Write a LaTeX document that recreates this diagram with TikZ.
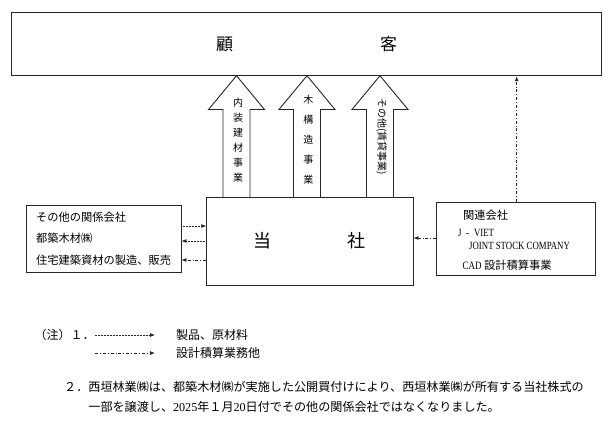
\documentclass[tikz,border=0pt]{standalone}
\usepackage{fontspec}
\setmainfont{Noto Sans CJK JP}
\newfontfamily\lat[FakeStretch=0.8]{Liberation Serif}
\newfontfamily\latn{Liberation Serif}
\usetikzlibrary{arrows.meta}
\tikzset{
  box/.style={draw=black!85, line width=0.9pt, rectangle, inner sep=0pt},
  bigarrow/.style={draw=black!85, line width=0.9pt, line join=miter},
  dotarr/.style={draw=black!85, line width=0.7pt, dash pattern=on 0.6pt off 0.9pt,
    -{Latex[length=5pt,width=4pt]}},
  dasharr/.style={draw=black!85, line width=0.8pt, dash pattern=on 3pt off 2pt on 0.8pt off 2pt,
    -{Latex[length=5pt,width=4pt]}},
  txt/.style={anchor=west, inner sep=0pt},
}
\begin{document}
\begin{tikzpicture}[x=1pt,y=-1pt]
\useasboundingbox (0,0) rectangle (612,429);
\fill[white] (0,0) rectangle (612,429);

% boxes
\node[box, minimum width=590pt, minimum height=63.7pt, font=\fontsize{17}{17}\selectfont]
  (cust) at (306.7,43.85) {顧\hspace{147pt}客};
\node[box, minimum width=206.3pt, minimum height=87.7pt, font=\fontsize{18}{18}\selectfont]
  (tosha) at (309.85,241.15) {当\hspace{76pt}社};
\node[box, minimum width=155pt, minimum height=67pt, text width=135pt, align=left,
  inner xsep=10pt, font=\fontsize{11.25}{21.5}\selectfont]
  (rel) at (103.5,238.5) {その他の関係会社\\都築木材㈱\\住宅建築資材の製造、販売};
\node[box, minimum width=158.3pt, minimum height=73pt] (jv) at (515.85,238.5) {};
\node[txt, font=\fontsize{11.25}{11.25}\selectfont] (jv1) at (463,215) {関連会社};
\node[txt, font=\lat\fontsize{11}{11}\selectfont] (jv2) at (458,233) {J\hspace{4.5pt}-\hspace{5pt}VIET};
\node[txt, font=\lat\fontsize{11}{11}\selectfont] (jv3) at (469,245.7) {JOINT STOCK COMPANY};
\node[txt, font=\fontsize{11.25}{11.25}\selectfont] (jv4) at (462.5,265) {{\lat CAD} 設計積算事業};

% big upward arrows
\foreach \cx in {236.5,307,380}{
  \draw[bigarrow] ({\cx-13.5},197.3) -- ({\cx-13.5},109.5) -- ({\cx-28},109.5) -- (\cx,75.7)
    -- ({\cx+28},109.5) -- ({\cx+13.5},109.5) -- ({\cx+13.5},197.3);
}
\node[inner sep=0pt, align=center, font=\fontsize{10}{15}\selectfont] (l1) at (238,140)
  {内\\装\\建\\材\\事\\業};
\node[inner sep=0pt, align=center, font=\fontsize{10}{20}\selectfont] (l2) at (308.3,139.5)
  {木\\構\\造\\事\\業};
\node[inner sep=0pt, rotate=-90, font=\fontsize{10}{10}\selectfont] (l3) at (381.5,136.5)
  {その他(賃貸事業)};

% connectors
\coordinate (ya) at (0,226);
\coordinate (yb) at (0,241);
\coordinate (yc) at (0,260);
\coordinate (yd) at (0,238);
\coordinate (vx) at (516.7,0);
\draw[dotarr] (rel.east |- ya) -- (tosha.west |- ya);
\draw[dotarr] (tosha.west |- yb) -- (rel.east |- yb);
\draw[dasharr] (tosha.west |- yc) -- (rel.east |- yc);
\draw[dasharr] (jv.west |- yd) -- (tosha.east |- yd);
\draw[dasharr] (jv.north -| vx) -- (cust.south -| vx);

% notes
\node[txt, font=\fontsize{12}{12}\selectfont] (n1) at (34.3,335) {（注）１．};
\node[txt, font=\fontsize{12}{12}\selectfont] (p1) at (176,335) {製品、原材料};
\node[txt, font=\fontsize{12}{12}\selectfont] (p2) at (176,353) {設計積算業務他};
\coordinate (n2s) at (95,353);
\draw[dotarr, shorten >=21pt] (n1.east) -- (p1.west);
\draw[dasharr, shorten >=21pt] (n2s) -- (p2.west);

\node[txt, font=\fontsize{12.1}{12.1}\selectfont] (m1) at (64,387)
  {２．西垣林業㈱は、都築木材㈱が実施した公開買付けにより、西垣林業㈱が所有する当社株式の};
\node[txt, font=\fontsize{12.1}{12.1}\selectfont] (m2) at (88.2,407)
  {一部を譲渡し、{\latn 2025}年１月{\latn 20}日付でその他の関係会社ではなくなりました。};
\end{tikzpicture}
\end{document}
